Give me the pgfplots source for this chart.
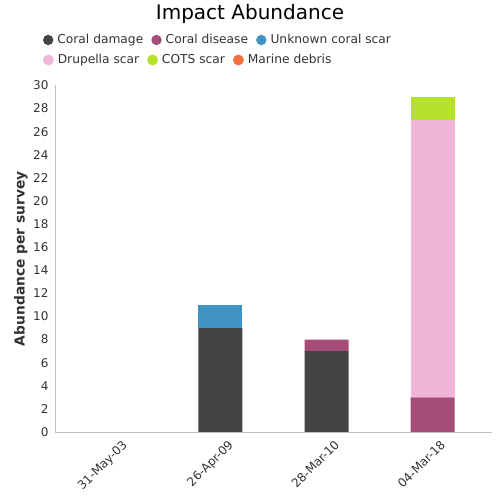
\documentclass[border=0pt]{standalone}
\usepackage{pgfplots}
\pgfplotsset{compat=1.18}
\usepackage{fontspec}
\setmainfont{DejaVu Sans}
\definecolor{cdamage}{HTML}{444444}
\definecolor{cdisease}{HTML}{A54D78}
\definecolor{cunknown}{HTML}{4092C4}
\definecolor{cdrupella}{HTML}{F2B5DA}
\definecolor{ccots}{HTML}{B5E02B}
\definecolor{cdebris}{HTML}{F27040}
\definecolor{textgray}{HTML}{333333}
\definecolor{axgray}{HTML}{C0C0C0}
\pgfplotstableread{
x dmg dis unk dru cots deb
0 0 0 0 0 0 0
1 9 0 2 0 0 0
2 7 1 0 0 0 0
3 0 3 0 24 2 0
}\impact
\pgfplotsset{
  dotlegend/.style={legend image code/.code={\fill[#1] (5pt,0pt) circle (5.2pt);}},
  commonlegend/.style={
    legend columns=-1,
    legend style={draw=none, fill=none, inner sep=0pt, outer sep=0pt,
      nodes={inner sep=0pt, text=textgray, font=\fontsize{12.25}{14}\selectfont},
      /tikz/every odd column/.append style={column sep=4pt},
      /tikz/every even column/.append style={column sep=8pt}},
  },
}
\begin{document}
\begin{tikzpicture}[x=1pt,y=1pt]
\useasboundingbox (0,0) rectangle (500,500);
\begin{axis}[
  at={(55pt,68pt)}, anchor=south west,
  scale only axis, width=437pt, height=346.5pt,
  xmin=-0.56, xmax=3.56, ymin=0, ymax=30,
  enlargelimits=false,
  ybar stacked, bar width=44pt,
  xtick={0,1,2,3},
  xticklabels={31-May-03,26-Apr-09,28-Mar-10,04-Mar-18},
  ytick={0,2,...,30},
  axis x line*=bottom, axis y line*=left,
  axis line style={axgray, line width=0.8pt},
  major tick length=0pt,
  /pgf/number format/assume math mode=true,
  tick label style={text=textgray, font=\fontsize{12}{14}\selectfont},
  yticklabel style={xshift=-3pt},
  xticklabel style={rotate=45, anchor=north east, inner sep=1pt, xshift=1pt, yshift=-9pt},
  ylabel={Abundance per survey},
  every axis y label/.style={at={(axis description cs:-0.078,0.5)}, rotate=90, anchor=center,
     font=\bfseries\fontsize{13.8}{16}\selectfont, text=textgray},
  title={Impact Abundance},
  every axis title/.style={at={(axis description cs:0.4462,1.2060)}, anchor=center,
     font=\fontsize{20}{24}\selectfont, text=black},
  commonlegend,
  legend style={at={(axis description cs:-0.0275,1.1313)}, anchor=west},
]
\addplot[fill=cdamage, draw=none, dotlegend=cdamage] table[x=x,y=dmg]{\impact};
\addlegendentry{Coral damage}
\addplot[fill=cdisease, draw=none, dotlegend=cdisease] table[x=x,y=dis]{\impact};
\addlegendentry{Coral disease}
\addplot[fill=cunknown, draw=none, dotlegend=cunknown] table[x=x,y=unk]{\impact};
\addlegendentry{Unknown coral scar}
\addplot[fill=cdrupella, draw=none] table[x=x,y=dru]{\impact};
\addplot[fill=ccots, draw=none] table[x=x,y=cots]{\impact};
\addplot[fill=cdebris, draw=none] table[x=x,y=deb]{\impact};
\end{axis}
\begin{axis}[
  at={(55pt,68pt)}, anchor=south west,
  scale only axis, width=437pt, height=346.5pt,
  xmin=0, xmax=1, ymin=0, ymax=1, hide axis,
  commonlegend,
  legend style={at={(axis description cs:-0.0275,1.0736)}, anchor=west},
]
\addlegendimage{dotlegend=cdrupella}
\addlegendentry{Drupella scar}
\addlegendimage{dotlegend=ccots}
\addlegendentry{COTS scar}
\addlegendimage{dotlegend=cdebris}
\addlegendentry{Marine debris}
\end{axis}
\end{tikzpicture}
\end{document}
